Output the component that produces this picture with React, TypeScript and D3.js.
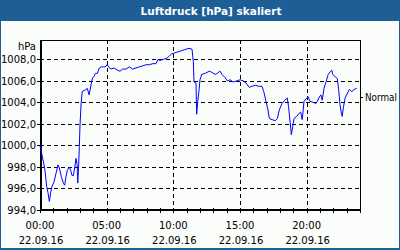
import React from "react";
import * as d3 from "d3";

const title = "Luftdruck [hPa] skaliert";
const unitLabel = "hPa";
const dateLabel = "22.09.16";
const normalLabel = "Normal";
const normalValue = 1004.5;
const yTicks = [994, 996, 998, 1000, 1002, 1004, 1006, 1008];
const xTickMinutes = [0, 300, 600, 900, 1200];
const xTickLabels = ["00:00", "05:00", "10:00", "15:00", "20:00"];

// minutes since 00:00
const minutes = [
  0, 10, 21, 30, 36, 42, 48, 54, 63, 72, 81, 87, 96, 105, 111, 117, 123, 132, 138, 144,
  150, 156, 162, 167, 170, 174, 177, 180, 185, 190, 198, 207, 213, 221, 225, 231, 237, 243, 249, 258,
  267, 276, 285, 294, 302, 318, 333, 348, 360, 372, 387, 402, 417, 432, 447, 462, 477, 492, 507, 522,
  531, 540, 555, 570, 582, 591, 606, 621, 636, 651, 666, 675, 684, 690, 693, 702, 705, 710, 716, 720,
  728, 743, 762, 773, 788, 798, 810, 819, 833, 843, 855, 870, 885, 900, 915, 927, 942, 954, 969, 984,
  999, 1007, 1017, 1026, 1032, 1044, 1059, 1068, 1077, 1089, 1101, 1113, 1119, 1126, 1131, 1137, 1143, 1155, 1167, 1173,
  1180, 1188, 1200, 1207, 1215, 1230, 1242, 1248, 1257, 1264, 1270, 1278, 1287, 1297, 1308, 1313, 1317, 1328, 1338, 1344,
  1350, 1356, 1360, 1365, 1373, 1380, 1392, 1403, 1413, 1425,
];
const pressure = [
  1000.0, 999.0, 997.9, 996.2, 995.6, 994.8, 995.6, 996.2, 996.6, 997.4, 998.2, 997.9, 997.1, 996.5, 996.3, 997.1, 997.7, 998.0, 997.7, 997.2,
  997.2, 997.9, 998.8, 998.2, 996.5, 998.2, 999.9, 1001.9, 1003.9, 1005.0, 1005.1, 1005.2, 1005.3, 1004.7, 1005.1, 1005.8, 1006.3, 1006.4, 1006.7, 1006.7,
  1007.2, 1007.3, 1007.3, 1007.3, 1007.5, 1007.1, 1007.2, 1007.0, 1006.9, 1007.1, 1007.1, 1007.3, 1007.1, 1007.2, 1007.3, 1007.4, 1007.5, 1007.5, 1007.6, 1007.6,
  1008.0, 1007.9, 1008.0, 1008.1, 1008.3, 1008.5, 1008.6, 1008.7, 1008.8, 1008.9, 1009.0, 1009.0, 1008.95, 1007.8, 1005.9, 1005.8, 1002.9, 1004.1, 1005.2, 1006.1,
  1006.6, 1006.7, 1006.9, 1006.8, 1006.6, 1006.7, 1006.9, 1006.6, 1006.3, 1006.0, 1006.1, 1005.9, 1006.0, 1006.1, 1006.0, 1005.8, 1005.4, 1005.5, 1005.6, 1005.5,
  1005.5, 1005.0, 1004.1, 1003.3, 1002.5, 1002.4, 1002.3, 1002.5, 1003.3, 1003.9, 1004.2, 1004.4, 1003.5, 1002.1, 1001.0, 1001.7, 1002.5, 1002.7, 1003.0, 1003.1,
  1002.4, 1004.1, 1004.4, 1004.5, 1004.1, 1004.0, 1003.9, 1004.1, 1004.5, 1004.7, 1004.2, 1005.3, 1005.9, 1006.6, 1006.9, 1007.0, 1006.6, 1006.4, 1006.2, 1005.2,
  1003.8, 1003.0, 1002.7, 1003.5, 1004.4, 1004.7, 1005.2, 1005.0, 1005.2, 1005.3,
];

const W = 400;
const H = 250;
const L = 40, R = 360, T = 40, B = 210;
const font = "'DejaVu Sans', Verdana, sans-serif";

export default function App() {
  const x = d3.scaleLinear().domain([0, 1440]).range([L, R]);
  const y = d3.scaleLinear().domain([994, 1009.8]).range([B, T]);
  const data = minutes.map((m, i) => [m, pressure[i]] as [number, number]);
  const line = d3.line<[number, number]>().x((d) => x(d[0])).y((d) => y(d[1]));
  const hourTicks = d3.range(0, 25);
  const px = (v: number) => Math.round(v) + 0.5;

  return (
    <svg width={W} height={H} style={{ position: "absolute", left: 0, top: 0, display: "block" }}>
      <rect x={0} y={0} width={W} height={H} fill="#1c5e95" />
      <rect x={1} y={21} width={W - 2} height={H - 23} fill="#fbfdfb" />
      <text x={211} y={15} fill="#ffffff" fontFamily={font} fontWeight="bold" fontSize={10.5} textAnchor="middle">
        {title}
      </text>

      {/* grid */}
      {yTicks.filter((v) => v !== 994).map((v) => (
        <line key={"gy" + v} x1={L} x2={R} y1={px(y(v))} y2={px(y(v))} stroke="#000" strokeDasharray="4,3" />
      ))}
      {xTickMinutes.filter((m) => m !== 0).map((m) => (
        <line key={"gx" + m} x1={px(x(m))} x2={px(x(m))} y1={T} y2={B} stroke="#000" strokeDasharray="4,3" />
      ))}

      {/* frame */}
      <rect x={L + 0.5} y={T + 0.5} width={R - L} height={B - T} fill="none" stroke="#000" />
      <line x1={L + 1.5} x2={L + 1.5} y1={T} y2={B} stroke="#000" />
      <line x1={L} x2={R} y1={B - 0.5} y2={B - 0.5} stroke="#000" />

      {/* hour ticks */}
      {hourTicks.map((h) => (
        <line key={"ht" + h} x1={px(x(h * 60))} x2={px(x(h * 60))} y1={B - 2} y2={B + 3} stroke="#000" />
      ))}
      {yTicks.map((v) => (
        <line key={"yt" + v} x1={L - 3} x2={L} y1={px(y(v))} y2={px(y(v))} stroke="#000" />
      ))}
      <line x1={R} x2={R + 3} y1={px(y(normalValue))} y2={px(y(normalValue))} stroke="#000" />

      {/* data line */}
      <path d={line(data) ?? ""} fill="none" stroke="#0000ff" strokeWidth={1} />

      {/* y labels */}
      <text x={36} y={50} fontFamily={font} fontSize={10} textAnchor="end" fill="#000">{unitLabel}</text>
      {yTicks.map((v) => (
        <text key={"yl" + v} x={36} y={y(v) + 4} fontFamily={font} fontSize={10} textAnchor="end" fill="#000">
          {d3.format(".1f")(v).replace(".", ",")}
        </text>
      ))}
      {xTickMinutes.map((m, i) => (
        <g key={"xl" + m}>
          <text x={x(m)} y={229} fontFamily={font} fontSize={10} textAnchor="middle" fill="#000">{xTickLabels[i]}</text>
          <text x={x(m) + 1} y={244} fontFamily={font} fontSize={10} textAnchor="middle" fill="#000">{dateLabel}</text>
        </g>
      ))}
      <text x={365} y={101} fontFamily={font} fontSize={10} textLength={32} lengthAdjust="spacingAndGlyphs" fill="#000">{normalLabel}</text>
    </svg>
  );
}
